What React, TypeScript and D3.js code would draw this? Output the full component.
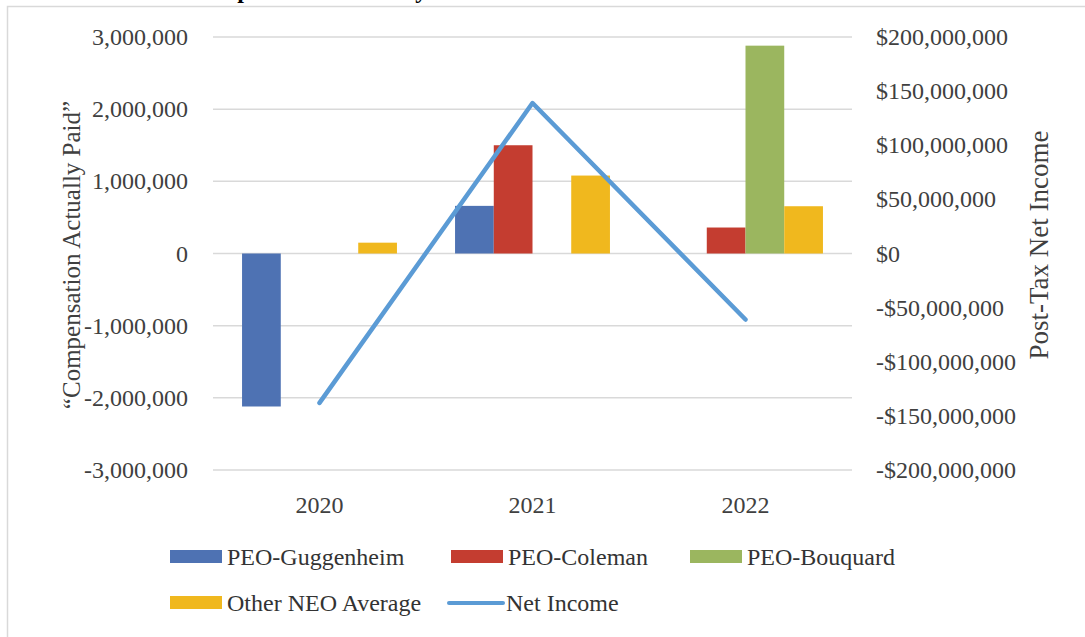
import React from "react";
import * as d3 from "d3";

// chart values
const years = ["2020", "2021", "2022"];
const guggenheim = [-2120000, 660000, null];
const coleman = [null, 1500000, 360000];
const bouquard = [null, null, 2880000];
const otherNeo = [150000, 1080000, 655000];
const netIncome = [-138000000, 139000000, -61000000];

const leftTicks = [3000000, 2000000, 1000000, 0, -1000000, -2000000, -3000000];
const rightTicks = [200e6, 150e6, 100e6, 50e6, 0, -50e6, -100e6, -150e6, -200e6];

const series = [
  { name: "PEO-Guggenheim", values: guggenheim, color: "#4E72B3" },
  { name: "PEO-Coleman", values: coleman, color: "#C43D30" },
  { name: "PEO-Bouquard", values: bouquard, color: "#9BB65F" },
  { name: "Other NEO Average", values: otherNeo, color: "#F0B81E" },
];
const lineColor = "#5B9BD5";

const FONT = "'Liberation Serif', 'Times New Roman', serif";

export default function App() {
  const W = 1085;
  const H = 637;
  const m = { l: 213, r: 852, t: 37, b: 470 };

  const x0 = d3.scaleBand().domain(years).range([m.l, m.r]).padding(0);
  const x1 = d3
    .scaleBand()
    .domain(series.map(s => s.name))
    .range([0, x0.bandwidth()])
    .paddingInner(0)
    .paddingOuter(0.75);
  const yL = d3.scaleLinear().domain([-3000000, 3000000]).range([m.b, m.t]);
  const yR = d3.scaleLinear().domain([-200e6, 200e6]).range([m.b, m.t]);

  const comma = d3.format(",");
  const fmtL = (v: number) => (v < 0 ? "-" : "") + comma(Math.abs(v));
  const fmtR = (v: number) => (v < 0 ? "-$" : "$") + comma(Math.abs(v));

  const line = d3
    .line<number>()
    .x((_, i) => (x0(years[i]) as number) + x0.bandwidth() / 2)
    .y(d => yR(d));

  // legend layout
  const legendItems = [
    { label: "PEO-Guggenheim", color: series[0].color, x: 170, y: 557, kind: "bar" },
    { label: "PEO-Coleman", color: series[1].color, x: 451, y: 557, kind: "bar" },
    { label: "PEO-Bouquard", color: series[2].color, x: 690, y: 557, kind: "bar" },
    { label: "Other NEO Average", color: series[3].color, x: 170, y: 603, kind: "bar" },
    { label: "Net Income", color: lineColor, x: 449, y: 603, kind: "line" },
  ];

  return (
    <svg
      width={W}
      height={H}
      style={{ position: "absolute", left: 0, top: 0, background: "#fff" }}
      fontFamily={FONT}
    >
      <rect x={0} y={0} width={W} height={H} fill="#fff" />
      {/* title sits above the frame and is cut off in the source */}
      <text x={188} y={-2} fontSize={24} fontWeight="bold" fill="#000">
        Compensation Actually Paid vs. Net Income
      </text>
      <rect x={7.5} y={6.5} width={W} height={H} fill="none" stroke="#D9D9D9" strokeWidth={1.5} />

      {/* gridlines */}
      {leftTicks.map(t => (
        <line key={t} x1={m.l} x2={m.r} y1={yL(t)} y2={yL(t)} stroke="#D9D9D9" strokeWidth={1.5} />
      ))}

      {/* left tick labels */}
      {leftTicks.map(t => (
        <text key={t} x={188} y={yL(t) + 8} textAnchor="end" fontSize={24} fill="#404040">
          {fmtL(t)}
        </text>
      ))}

      {/* right tick labels */}
      {rightTicks.map(t => (
        <text key={t} x={876} y={yR(t) + 8} fontSize={24} fill="#404040">
          {fmtR(t)}
        </text>
      ))}

      {/* x labels */}
      {years.map(yr => (
        <text
          key={yr}
          x={(x0(yr) as number) + x0.bandwidth() / 2}
          y={513}
          textAnchor="middle"
          fontSize={24}
          fill="#404040"
        >
          {yr}
        </text>
      ))}

      {/* bars */}
      {series.map(s =>
        s.values.map((v, i) =>
          v == null ? null : (
            <rect
              key={s.name + i}
              x={(x0(years[i]) as number) + (x1(s.name) as number)}
              y={yL(Math.max(0, v))}
              width={x1.bandwidth()}
              height={Math.abs(yL(v) - yL(0))}
              fill={s.color}
            />
          )
        )
      )}

      {/* net income line */}
      <path
        d={line(netIncome) || ""}
        fill="none"
        stroke={lineColor}
        strokeWidth={4.5}
        strokeLinecap="round"
        strokeLinejoin="round"
      />

      {/* axis titles */}
      <text
        transform={`translate(74,255) rotate(-90)`}
        textAnchor="middle"
        dominantBaseline="middle"
        fontSize={25}
        fill="#404040"
      >
        “Compensation Actually Paid”
      </text>
      <text
        transform={`translate(1042,245) rotate(-90)`}
        textAnchor="middle"
        dominantBaseline="middle"
        fontSize={27}
        fill="#404040"
      >
        Post-Tax Net Income
      </text>

      {/* legend */}
      {legendItems.map(it => (
        <g key={it.label}>
          {it.kind === "bar" ? (
            <rect x={it.x} y={it.y - 7} width={52} height={13} fill={it.color} />
          ) : (
            <line x1={it.x} x2={it.x + 54} y1={it.y} y2={it.y} stroke={it.color} strokeWidth={4} strokeLinecap="round" />
          )}
          <text x={it.x + 57} y={it.y + 8} fontSize={24} fill="#333">
            {it.label}
          </text>
        </g>
      ))}
    </svg>
  );
}
